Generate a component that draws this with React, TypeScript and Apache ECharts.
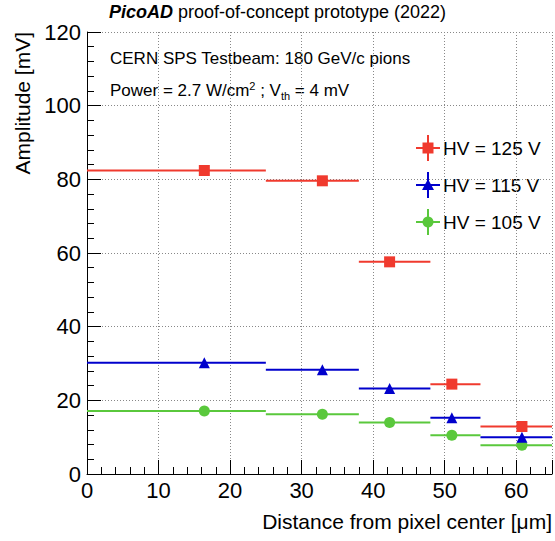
import { useEffect, useRef } from "react";
import * as echarts from "echarts";

const binLow = [0, 25, 38, 48, 55];
const binHigh = [25, 38, 48, 55, 65];
const binCenter = [16.4, 32.9, 42.3, 51.0, 60.8];
const hv125 = [82.4, 79.6, 57.6, 24.4, 12.9];
const hv115 = [30.2, 28.3, 23.2, 15.3, 10.0];
const hv105 = [17.1, 16.2, 14.0, 10.5, 7.8];

const RED = "#f03a2e";
const BLUE = "#0000cc";
const GREEN = "#5ac83c";
const FONT = "Liberation Sans";

function binSeries(vals: number[], color: string) {
  return {
    type: "custom",
    silent: true,
    data: vals.map((v, i) => [binLow[i], binHigh[i], v]),
    renderItem: (_p: unknown, api: any) => {
      const a = api.coord([api.value(0), api.value(2)]);
      const b = api.coord([api.value(1), api.value(2)]);
      return {
        type: "line",
        shape: { x1: a[0], y1: a[1], x2: b[0], y2: b[1] },
        style: { stroke: color, lineWidth: 2 },
      };
    },
  };
}

function pointSeries(vals: number[], color: string, symbol: string, size: number) {
  return {
    type: "scatter",
    symbol,
    symbolSize: size,
    itemStyle: { color, opacity: 1 },
    data: vals.map((v, i) => [binCenter[i], v]),
  };
}

function legendItem(y: number, color: string, symbol: any, label: string) {
  return [
    { type: "line", shape: { x1: 416, y1: y, x2: 440, y2: y }, style: { stroke: color, lineWidth: 2 } },
    { type: "line", shape: { x1: 428, y1: y - 13, x2: 428, y2: y + 13 }, style: { stroke: color, lineWidth: 2 } },
    { ...symbol, style: { fill: color } },
    {
      type: "text",
      x: 443,
      y,
      style: { text: label, font: `19px ${FONT}`, fill: "#000", verticalAlign: "middle" },
    },
  ];
}

export default function App() {
  const ref = useRef<HTMLDivElement>(null);

  useEffect(() => {
    if (!ref.current) return;
    const chart = echarts.init(ref.current, undefined, { renderer: "svg" });
    chart.setOption({
      animation: false,
      backgroundColor: "#fff",
      textStyle: { fontFamily: FONT },
      grid: { left: 87, right: 1, top: 32, bottom: 67 },
      xAxis: {
        type: "value",
        min: 0,
        max: 65,
        interval: 10,
        name: "Distance from pixel center [\u03bcm]",
        nameLocation: "end",
        nameGap: 0,
        nameTextStyle: {
          fontSize: 21,
          color: "#000",
          align: "right",
          verticalAlign: "top",
          padding: [37, 0, 0, 0],
        },
        axisLine: { show: true, onZero: false, lineStyle: { color: "#000", width: 1 } },
        axisTick: { inside: true, length: 14, lineStyle: { color: "#000" } },
        minorTick: { show: true, splitNumber: 5, length: 7, lineStyle: { color: "#000" } },
        axisLabel: { fontSize: 22, color: "#000", margin: 5, showMaxLabel: false },
        splitLine: { show: true, lineStyle: { color: "#888", type: [1, 2] } },
      },
      yAxis: {
        type: "value",
        min: 0,
        max: 120,
        interval: 20,
        name: "Amplitude [mV]",
        nameLocation: "end",
        nameRotate: 90,
        nameGap: 0,
        nameTextStyle: {
          fontSize: 21,
          color: "#000",
          align: "right",
          verticalAlign: "bottom",
          padding: [0, 0, 54, 0],
        },
        axisLine: { show: true, lineStyle: { color: "#000", width: 1 } },
        axisTick: { inside: true, length: 14, lineStyle: { color: "#000" } },
        minorTick: { show: true, splitNumber: 5, length: 7, lineStyle: { color: "#000" } },
        axisLabel: { fontSize: 22, color: "#000", margin: 6 },
        splitLine: { show: true, lineStyle: { color: "#888", type: [1, 2] } },
      },
      series: [
        binSeries(hv105, GREEN),
        binSeries(hv115, BLUE),
        binSeries(hv125, RED),
        pointSeries(hv105, GREEN, "circle", 11),
        pointSeries(hv115, BLUE, "triangle", 11),
        pointSeries(hv125, RED, "rect", 11),
      ],
      graphic: [
        {
          type: "text",
          left: "center",
          top: 3,
          style: {
            text: "{b|PicoAD} proof-of-concept prototype (2022)",
            font: `18px ${FONT}`,
            fill: "#000",
            rich: {
              b: { fontWeight: "bold", fontStyle: "italic", fontSize: 18, fontFamily: FONT },
            },
          },
        },
        {
          type: "text",
          x: 110,
          y: 50,
          style: { text: "CERN SPS Testbeam: 180 GeV/c pions", font: `17px ${FONT}`, fill: "#000" },
        },
        {
          type: "text",
          x: 110,
          y: 80,
          style: {
            text: "Power = 2.7 W/cm{sup|2} ; V{sub|th} = 4 mV",
            font: `17px ${FONT}`,
            fill: "#000",
            rich: {
              sup: { fontSize: 11, verticalAlign: "top", padding: [0, 0, 8, 0] },
              sub: { fontSize: 11, padding: [10, 0, 0, 0] },
            },
          },
        },
        ...legendItem(148, RED, { type: "rect", shape: { x: 422.5, y: 142.5, width: 11, height: 11 } }, "HV = 125 V"),
        ...legendItem(185, BLUE, { type: "polygon", shape: { points: [[428, 179], [434, 190], [422, 190]] } }, "HV = 115 V"),
        ...legendItem(222, GREEN, { type: "circle", shape: { cx: 428, cy: 222, r: 5.5 } }, "HV = 105 V"),
      ],
    });
    return () => chart.dispose();
  }, []);

  return <div ref={ref} style={{ width: 555, height: 541, position: "absolute", left: 0, top: 0 }} />;
}
